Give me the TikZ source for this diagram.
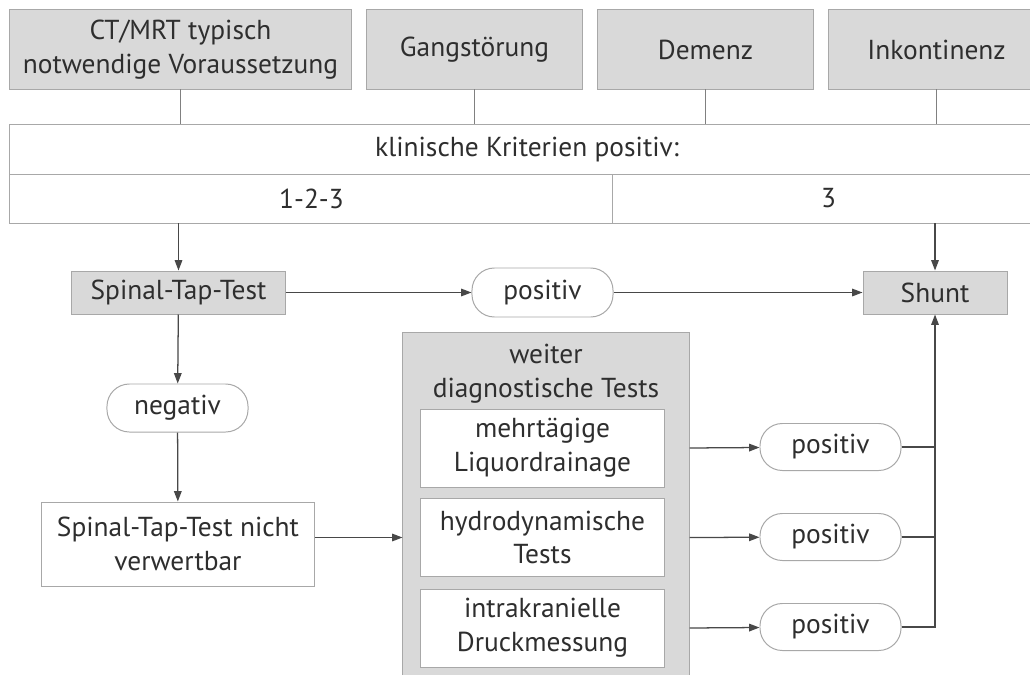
\documentclass[tikz,border=0pt]{standalone}
\usepackage{fontspec}
\setmainfont{PT Sans}
\usetikzlibrary{arrows.meta}
\definecolor{boxgray}{HTML}{D9D9D9}
\definecolor{edgegray}{HTML}{A8A8A8}
\definecolor{linegray}{HTML}{484848}
\definecolor{textgray}{HTML}{2E2E2E}
\tikzset{
  base/.style={draw=edgegray, line width=0.7pt, text=textgray, align=center,
    inner sep=0pt, font=\fontsize{19.5}{24}\selectfont},
  graybox/.style={base, fill=boxgray},
  whitebox/.style={base, fill=white},
  pill/.style={base, fill=white, rounded corners=0.56cm},
  link/.style={draw=gray, line width=1pt},
  flow/.style={draw=linegray, line width=0.9pt, -{Triangle[length=2.6mm,width=1.9mm]}},
}
\begin{document}
\begin{tikzpicture}[x=0.025cm, y=-0.025cm]
\clip (0,0) rectangle (1030,675);
\fill[white] (0,0) rectangle (1030,675);
% Kriterien oben
\begin{scope}[minimum height=1.975cm]
  \node[graybox, minimum width=8.525cm] (ct)    at (180.5,49.5) {CT/MRT typisch\\notwendige Voraussetzung};
  \node[graybox, minimum width=5.375cm] (gang)  at (474.5,49.5) {Gangstörung};
  \node[graybox, minimum width=5.375cm] (dem)   at (705.5,49.5) {Demenz};
  \node[graybox, minimum width=5.375cm] (inkon) at (936.5,49.5) {Inkontinenz};
\end{scope}
\node[whitebox, minimum width=25.85cm, minimum height=1.225cm] (klin) at (527,149.5) {klinische Kriterien positiv:};
\node[whitebox, minimum width=15.075cm, minimum height=1.225cm] (k123) at (311.5,198.5) {1-2-3};
\node[whitebox, minimum width=10.775cm, minimum height=1.225cm] (k3) at (828.5,198.5) {3};
\foreach \n in {ct,gang,dem,inkon}
  \draw[link] (\n.south) -- (\n.south |- klin.north);
% Spinal-Tap-Test
\node[graybox, minimum width=5.325cm, minimum height=1.075cm] (stt) at (178.5,292.5) {Spinal-Tap-Test};
\node[pill, minimum width=3.525cm, minimum height=1.225cm] (pos) at (542.5,292.5) {positiv};
\node[graybox, minimum width=3.6cm, minimum height=1.075cm] (shunt) at (935,292.5) {Shunt};
\node[pill, minimum width=3.525cm, minimum height=1.2cm] (neg) at (177.5,408) {negativ};
\node[whitebox, minimum width=6.8cm, minimum height=2.1cm] (nv) at (178,544) {Spinal-Tap-Test nicht\\verwertbar};
% weitere Tests
\node[graybox, minimum width=7.15cm, minimum height=9.175cm] (wdt) at (546,516.5) {};
\node[text=textgray, align=center, font=\fontsize{19.5}{24}\selectfont] (wdtt) at (546,374) {weiter\\diagnostische Tests};
\begin{scope}[minimum width=6.075cm, minimum height=1.95cm]
  \node[whitebox] (mld) at (542.5,448) {mehrtägige\\Liquordrainage};
  \node[whitebox] (hyd) at (542.5,537.5) {hydrodynamische\\Tests};
  \node[whitebox] (icp) at (542.5,628) {intrakranielle\\Druckmessung};
\end{scope}
\node[pill, minimum width=3.525cm, minimum height=1.175cm] (p1) at (830.5,447) {positiv};
\node[pill, minimum width=3.525cm, minimum height=1.175cm] (p2) at (830.5,537) {positiv};
\node[pill, minimum width=3.525cm, minimum height=1.175cm] (p3) at (830.5,627) {positiv};
% Pfeile
\draw[flow] (stt.north |- k123.south) -- (stt.north);
\draw[flow] (shunt.north |- k3.south) -- (shunt.north);
\draw[flow] (stt) -- (pos);
\draw[flow] (pos) -- (shunt);
\draw[flow] (stt) -- (neg);
\draw[flow] (neg) -- (nv);
\draw[flow] (nv.east |- hyd) -- (wdt.west |- hyd);
\draw[flow] (wdt.east |- mld) -- (p1);
\draw[flow] (wdt.east |- hyd) -- (p2);
\draw[flow] (wdt.east |- icp) -- (p3);
\draw[draw=linegray, line width=0.9pt] (p1.east) -- (p1.east -| shunt.south);
\draw[draw=linegray, line width=0.9pt] (p2.east) -- (p2.east -| shunt.south);
\draw[flow] (p3.east) -| (shunt.south);
\end{tikzpicture}
\end{document}
